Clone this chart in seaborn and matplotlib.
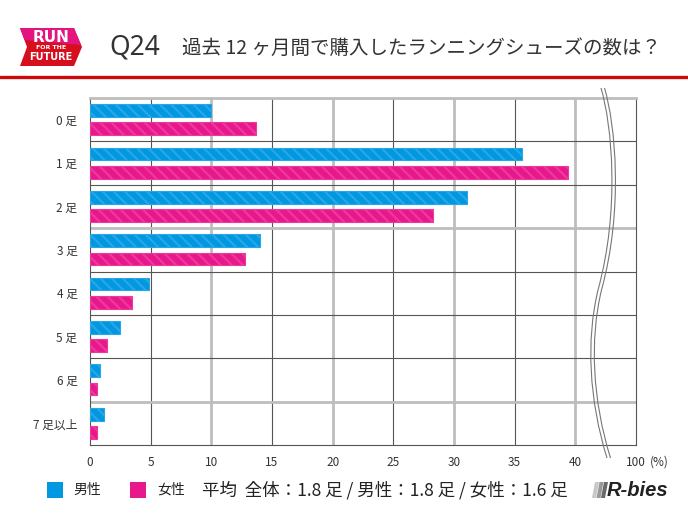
import numpy as np
import pandas as pd
import seaborn as sns
import matplotlib.pyplot as plt
from matplotlib.patches import Polygon, PathPatch
from matplotlib.lines import Line2D
from matplotlib.path import Path

# data (%)
categories = ["0 足", "1 足", "2 足", "3 足", "4 足", "5 足", "6 足", "7 足以上"]
male = [10.0, 35.6, 31.1, 14.0, 4.9, 2.5, 0.85, 1.15]
female = [13.7, 39.4, 28.3, 12.8, 3.5, 1.4, 0.6, 0.6]
groups = ["男性", "女性"]
x_ticks = [0, 5, 10, 15, 20, 25, 30, 35, 40, 45]
x_labels = ["0", "5", "10", "15", "20", "25", "30", "35", "40", "100"]
title_q = "Q24"
title = "過去 12 ヶ月間で購入したランニングシューズの数は？"
average_text = "平均  全体：1.8 足 / 男性：1.8 足 / 女性：1.6 足"

colors = ["#0098E0", "#E8188C"]
edge_colors = ["#2AA6E6", "#EC3A9C"]

sns.set_style("white")
plt.rcParams['font.family'] = ['Noto Sans CJK JP', 'DejaVu Sans']
plt.rcParams['hatch.linewidth'] = 1.6

W, H = 688, 516


def px(x, y):
    return (x / W, 1 - y / H)


df = pd.DataFrame({
    "cat": categories * 2,
    "value": male + female,
    "sex": [groups[0]] * len(categories) + [groups[1]] * len(categories),
})

fig = plt.figure(figsize=(6.88, 5.16), dpi=100)
ax = fig.add_axes([90 / W, 1 - 445 / H, 546 / W, 347 / H])

sns.barplot(data=df, y="cat", x="value", hue="sex", orient="h",
            palette=colors, saturation=1, width=0.84, gap=0.3, errorbar=None,
            legend=False, ax=ax, zorder=3)

for cont, ec in zip(ax.containers, edge_colors):
    for bar in cont:
        bar.set_edgecolor(ec)
        bar.set_linewidth(0.8)
        bar.set_hatch("\\\\\\")

ax.set_xlim(0, 45)
ax.set_ylim(len(categories) - 0.5, -0.5)

# grid lines: alternating light thick / dark thin
for v in x_ticks[1:-1]:
    if v % 10 == 0:
        ax.axvline(v, color="#BDBDBD", lw=2.0, zorder=1)
    else:
        ax.axvline(v, color="#555555", lw=0.8, zorder=1)
row_style = ["dark", "dark", "gray", "dark", "dark", "dark", "gray"]
for i, st in enumerate(row_style):
    if st == "gray":
        ax.axhline(i + 0.5, color="#BDBDBD", lw=2.0, zorder=1)
    else:
        ax.axhline(i + 0.5, color="#555555", lw=0.8, zorder=1)

for side in ["left", "bottom", "right"]:
    ax.spines[side].set_color("#555555")
    ax.spines[side].set_linewidth(0.8)
ax.spines["top"].set_color("#BDBDBD")
ax.spines["top"].set_linewidth(2.0)

ax.set_xticks(x_ticks)
ax.set_xticklabels(x_labels)
ax.tick_params(axis="both", length=0, labelsize=8.5, colors="#333333")
ax.tick_params(axis="y", pad=9)
ax.tick_params(axis="x", pad=8)
ax.set_xlabel("")
ax.set_ylabel("")
fig.text(*px(650, 462.5), "(%)", fontsize=8.5, color="#333333", va="center")

# axis break marks
verts = [px(601, 88), px(612, 125), px(620, 210), px(598, 290),
         px(586, 340), px(589, 400), px(607, 458)]
codes = [Path.MOVETO] + [Path.CURVE4] * 6
for dx in (0, 3.5):
    v = [(x + dx / W, y) for x, y in verts]
    fig.add_artist(PathPatch(Path(v, codes), fill=False, edgecolor="#777777",
                             lw=0.8, transform=fig.transFigure))

# header
fig.add_artist(Polygon([px(20, 28), px(74, 28), px(82, 47), px(74, 66),
                        px(20, 66), px(27, 47)], closed=True,
                       facecolor="#D50F1E", edgecolor="none",
                       transform=fig.transFigure))
fig.add_artist(Polygon([px(20, 28), px(74, 28), px(81, 45), px(24.5, 40)],
                       closed=True, facecolor="#E4137F", edgecolor="none",
                       transform=fig.transFigure))
fig.text(*px(51, 37), "RUN", fontsize=11, fontweight="bold", color="white",
         ha="center", va="center", family="Liberation Sans Narrow")
fig.text(*px(51, 48), "FOR THE", fontsize=4.5, fontweight="bold", color="white",
         ha="center", va="center", family="DejaVu Sans")
fig.text(*px(51, 57), "FUTURE", fontsize=7, fontweight="bold", color="white",
         ha="center", va="center", family="Liberation Sans Narrow")

fig.text(*px(109, 48), title_q, fontsize=19, color="#333333", va="center",
         family="Noto Sans", fontweight="medium")
fig.text(*px(182, 48), title, fontsize=14, color="#333333", va="center")
fig.add_artist(Line2D([0, 1], [1 - 77 / H] * 2, color="#CC0A0A", lw=2.4,
                      transform=fig.transFigure))

# legend + averages
fig.add_artist(Polygon([px(47, 482), px(63, 482), px(63, 498), px(47, 498)],
                       facecolor=colors[0], edgecolor="none",
                       transform=fig.transFigure))
fig.text(*px(73, 490), groups[0], fontsize=10, color="#222222", va="center")
fig.add_artist(Polygon([px(130, 482), px(146, 482), px(146, 498), px(130, 498)],
                       facecolor=colors[1], edgecolor="none",
                       transform=fig.transFigure))
fig.text(*px(157, 490), groups[1], fontsize=10, color="#222222", va="center")
fig.text(*px(202, 490), average_text, fontsize=12.6, color="#222222", va="center")

# R-bies logo
for i, c in enumerate(["#C8C8C8", "#9A9A9A", "#6A6A6A"]):
    x0 = 592 + i * 4.5
    fig.add_artist(Polygon([px(x0 + 3, 482), px(x0 + 7, 482), px(x0 + 4, 498),
                            px(x0, 498)], facecolor=c, edgecolor="none",
                           transform=fig.transFigure))
fig.text(*px(607, 490), "R-bies", fontsize=14.5, fontweight="bold",
         fontstyle="italic", color="#222222", va="center",
         family="Liberation Sans")

fig.savefig("out.png", dpi=100)
